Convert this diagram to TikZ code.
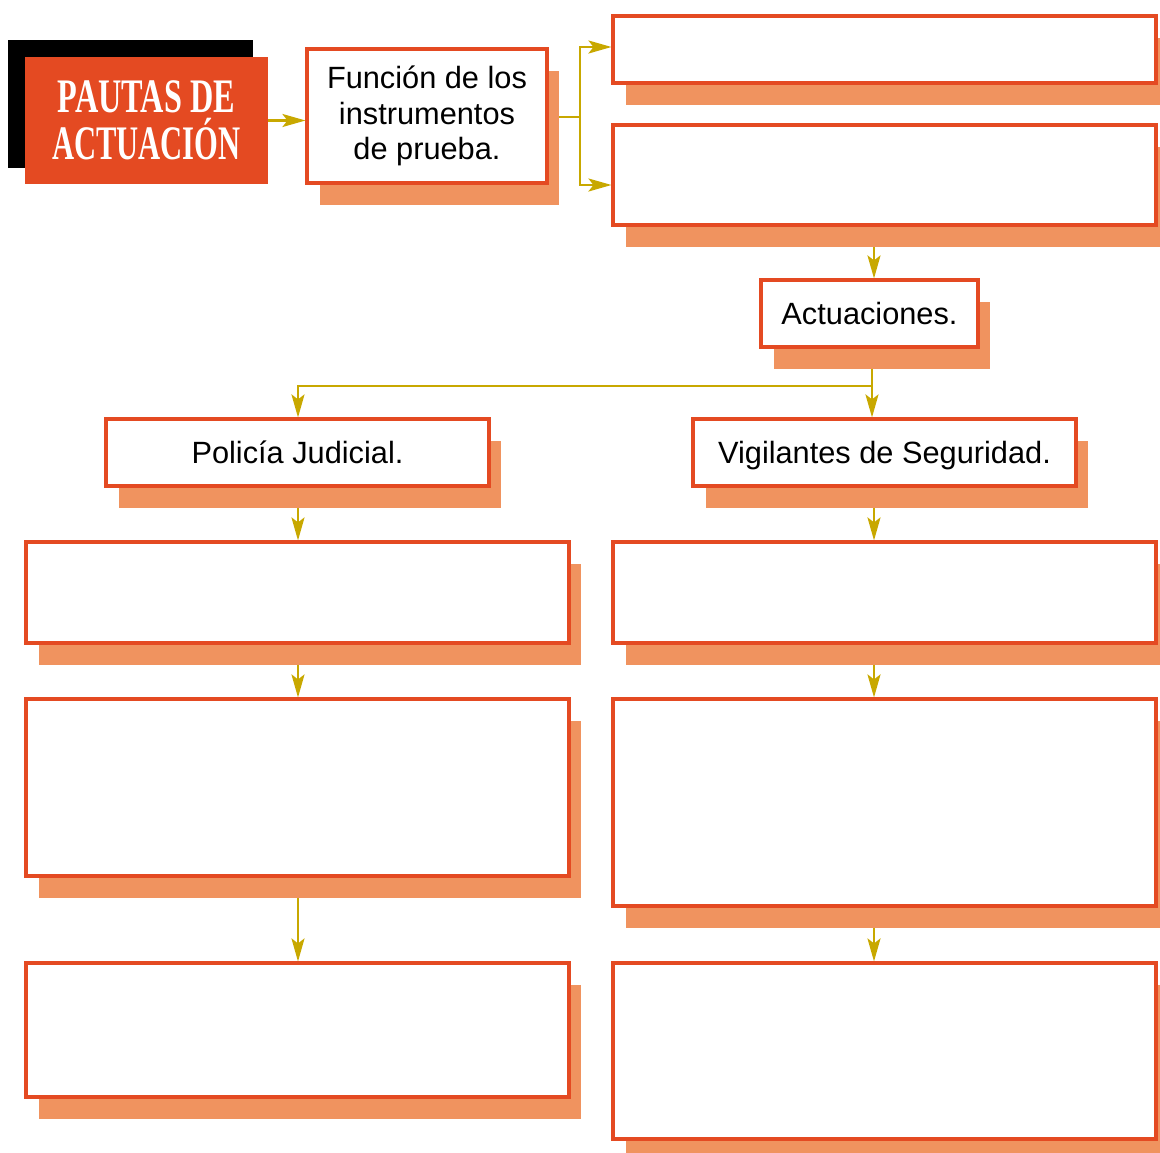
\documentclass[tikz,border=0pt]{standalone}
\usepackage{fontspec}
\setmainfont{Liberation Sans}
\newfontfamily\titlefont{Liberation Serif}
\usepackage{graphicx}
\usetikzlibrary{positioning}
\usetikzlibrary{shadows}
\usetikzlibrary{backgrounds}
\usetikzlibrary{arrows.meta}
\definecolor{boxred}{HTML}{E44A22}
\definecolor{shadowc}{HTML}{F0935F}
\definecolor{linkc}{HTML}{C8A800}
\tikzstyle{box}=[%
  draw=boxred,
  line width=1.8pt,
  fill=white,
  inner sep=0pt,
  align=center,
  font=\fontsize{17.5}{20.2}\selectfont,
  drop shadow={shadow xshift=0.25cm, shadow yshift=-0.44cm,
    fill=shadowc, opacity=1}
]
\tikzstyle{oneline}=[box, text height=12.6pt, text depth=0pt]
\tikzstyle{wide}=[box, minimum width=10.86cm]
\tikzstyle{link}=[linkc, line width=1.4pt]
\tikzstyle{arrow}=[link, -{Stealth[length=0.46cm, width=0.26cm, inset=0.1cm]}]

\begin{document}
\begin{tikzpicture}[x=0.02cm, y=-0.02cm]
      \useasboundingbox (0,0) rectangle (1160,1153);
      % title
      \node[fill=black, minimum width=4.9cm, minimum height=2.56cm] (back) at (130.5,104) {};
      \node[fill=boxred, minimum width=4.86cm, minimum height=2.54cm,
        text=white, align=center, inner sep=0pt,
        font=\titlefont\bfseries\fontsize{27.4}{26.7}\selectfont]
        (title) at (146.5,120.5) {\scalebox{0.67}[1]{PAUTAS DE}\\\scalebox{0.635}[1]{ACTUACIÓN}};
      \node[box, minimum width=4.8cm, minimum height=2.68cm] (func) at (427,116)
        {Función de los\\instrumentos\\de prueba.};
      \node[wide, minimum height=1.34cm] (r1) at (884.5,49.5) {};
      \node[wide, minimum height=2cm] (r2) at (884.5,175) {};
      \node[oneline, minimum width=4.34cm, minimum height=1.34cm] (act) at (869.5,313.5) {Actuaciones.};
      \node[oneline, minimum width=7.66cm, minimum height=1.34cm] (pol) at (297.5,452.5) {Policía Judicial.};
      \node[oneline, minimum width=7.66cm, minimum height=1.34cm] (vig) at (884.5,452.5) {Vigilantes de Seguridad.};
      \node[wide, minimum height=2.02cm] (l1) at (297.5,592.5) {};
      \node[wide, minimum height=2.02cm] (r3) at (884.5,592.5) {};
      \node[wide, minimum height=3.54cm] (l2) at (297.5,787.5) {};
      \node[wide, minimum height=4.14cm] (r4) at (884.5,802.5) {};
      \node[wide, minimum height=2.68cm] (l3) at (297.5,1030) {};
      \node[wide, minimum height=3.52cm] (r5) at (884.5,1051) {};
      \coordinate (fsplit) at (580,117);
      \coordinate (asplit) at (872,386);
      \coordinate (colL) at (298,0);
      \coordinate (colR) at (874,0);
      \begin{scope}[on background layer]
        \draw[arrow] (title.east) -- (title.east -| func.west);
        \draw[link] (func.east |- fsplit) -- (fsplit);
        \draw[arrow] (fsplit) |- ([yshift=0.05cm]r1.west);
        \draw[arrow] (fsplit) |- ([yshift=-0.2cm]r2.west);
        \draw[arrow] (r2.south -| colR) -- (act.north -| colR);
        \draw[link] (act.south -| asplit) -- (asplit);
        \draw[arrow] (asplit) -| (pol.north -| colL);
        \draw[arrow] (asplit) -- (vig.north -| asplit);
        \foreach \a/\b in {pol/l1, l1/l2, l2/l3} {%
          \draw[arrow] (\a.south -| colL) -- (\b.north -| colL);
        }
        \foreach \a/\b in {vig/r3, r3/r4, r4/r5} {%
          \draw[arrow] (\a.south -| colR) -- (\b.north -| colR);
        }
      \end{scope}
    \end{tikzpicture}
\end{document}
